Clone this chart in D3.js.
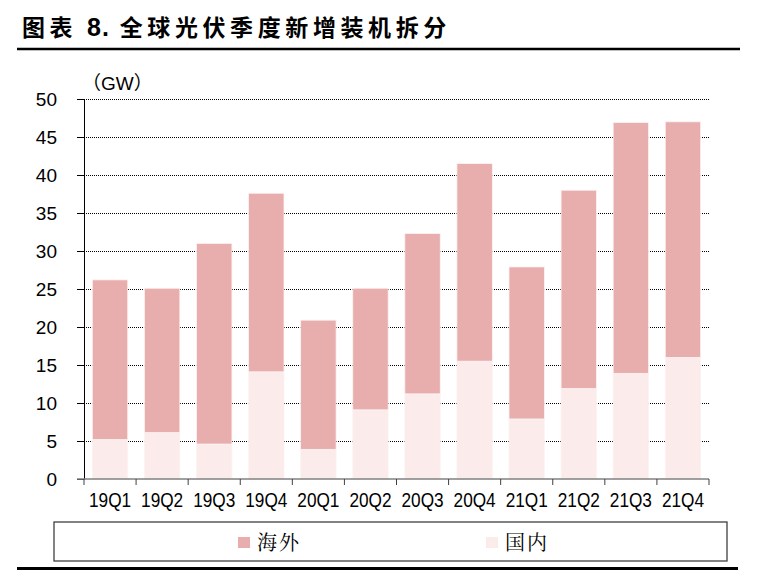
<!DOCTYPE html>
<html>
<head>
<meta charset="utf-8">
<script src="https://cdn.jsdelivr.net/npm/d3@7"></script>
<style>
  body { margin: 0; background: #fff; }
  svg { display: block; font-family: 'Liberation Sans', Arial, sans-serif; }
</style>
</head>
<body>
<div id="container"></div>
<script>
const w = 763,
  h = 570,
  plotLeft = 84,
  plotRight = 709,
  plotTop = 99,
  plotBottom = 479;

const quarters = ['19Q1', '19Q2', '19Q3', '19Q4', '20Q1', '20Q2', '20Q3', '20Q4', '21Q1', '21Q2', '21Q3', '21Q4'];
// GW
const domestic = [5.2, 6.1, 4.6, 14.1, 3.9, 9.1, 11.2, 15.5, 7.9, 11.9, 13.9, 16.0];
const overseas = [21.0, 19.0, 26.4, 23.5, 17.0, 16.0, 21.1, 26.0, 20.0, 26.1, 33.0, 31.0];
const yTicks = [0, 5, 10, 15, 20, 25, 30, 35, 40, 45, 50];
const seriesNames = { overseas: '海外', domestic: '国内' };
const colors = { overseas: '#e8adad', domestic: '#fbebeb' };

const latin = "'Liberation Sans', Arial, sans-serif";
const cjk = "'Noto Sans CJK SC', 'Liberation Sans', sans-serif";
const mixed = "'Liberation Sans', 'Noto Sans CJK SC', sans-serif";

const rows = quarters.map((q, i) => ({ q: q, domestic: domestic[i], overseas: overseas[i] }));

const svg = d3
  .select('#container')
  .append('svg')
  .attr('width', w)
  .attr('height', h);

// squeeze text horizontally, like the narrow font in the original
function squeeze(sel, k) {
  sel.each(function () {
    const len = this.getComputedTextLength();
    d3.select(this).attr('textLength', len * k).attr('lengthAdjust', 'spacingAndGlyphs');
  });
}

// title
const title = svg
  .append('text')
  .attr('x', 22)
  .attr('y', 36)
  .style('font-family', cjk)
  .style('font-weight', 'bold')
  .style('font-size', '23px')
  .style('letter-spacing', '4.6px')
  .attr('fill', '#000');
title.append('tspan').text('图表 ');
title.append('tspan').text('8.').style('font-family', latin).style('font-size', '25px').style('letter-spacing', '1px');
title.append('tspan').text(' 全球光伏季度新增装机拆分');

svg
  .append('line')
  .attr('x1', 17)
  .attr('x2', 740)
  .attr('y1', 49)
  .attr('y2', 49)
  .attr('stroke', '#000')
  .attr('stroke-width', 2.5);

const x = d3
  .scaleBand()
  .domain(quarters)
  .range([plotLeft, plotRight])
  .paddingInner(0.32)
  .paddingOuter(0.16);

const y = d3.scaleLinear().domain([0, 50]).range([plotBottom, plotTop]);

// gridlines
svg
  .append('g')
  .attr('transform', 'translate(' + plotLeft + ',0)')
  .call(d3.axisLeft(y).tickValues(yTicks.slice(1)).tickSize(-(plotRight - plotLeft)).tickFormat(''))
  .call((g) => g.select('.domain').remove())
  .selectAll('line')
  .attr('stroke', '#000')
  .attr('stroke-dasharray', '1,1');

// bars
const stack = d3.stack().keys(['domestic', 'overseas'])(rows);

svg
  .append('g')
  .selectAll('g')
  .data(stack)
  .enter()
  .append('g')
  .attr('fill', (s) => colors[s.key])
  .selectAll('rect')
  .data((s) => s)
  .enter()
  .append('rect')
  .attr('x', (d) => x(d.data.q))
  .attr('width', x.bandwidth())
  .attr('y', (d) => y(d[1]))
  .attr('height', (d) => y(d[0]) - y(d[1]))
  .attr('stroke', '#fdf3f3')
  .attr('stroke-width', 0.8);

// y axis
const yAxis = svg
  .append('g')
  .attr('transform', 'translate(' + plotLeft + ',0)')
  .call(d3.axisLeft(y).tickValues(yTicks).tickSize(7).tickPadding(20).tickSizeOuter(0));
yAxis.select('.domain').attr('stroke', '#000');
yAxis.selectAll('line').attr('stroke', '#000');
yAxis
  .selectAll('text')
  .style('font-family', latin)
  .style('font-size', '19px')
  .attr('fill', '#000');

// x axis
const xAxis = svg
  .append('g')
  .attr('transform', 'translate(0,' + plotBottom + ')')
  .call(d3.axisBottom(x).tickSize(0).tickPadding(13).tickSizeOuter(0));
xAxis.select('.domain').remove();
xAxis
  .selectAll('text')
  .style('font-family', latin)
  .style('font-size', '21px')
  .attr('fill', '#000')
  .call(squeeze, 0.82);

svg
  .append('line')
  .attr('x1', plotLeft - 7)
  .attr('x2', plotRight)
  .attr('y1', plotBottom)
  .attr('y2', plotBottom)
  .attr('stroke', '#808080')
  .attr('stroke-width', 1.5);

const step = x.step();
svg
  .append('g')
  .selectAll('line')
  .data(d3.range(quarters.length + 1))
  .enter()
  .append('line')
  .attr('x1', (i) => plotLeft + i * step)
  .attr('x2', (i) => plotLeft + i * step)
  .attr('y1', plotBottom)
  .attr('y2', plotBottom + 6)
  .attr('stroke', '#404040')
  .attr('stroke-width', 1);

// unit
svg
  .append('text')
  .text('（GW）')
  .attr('x', 82)
  .attr('y', 90)
  .style('font-family', mixed)
  .style('font-size', '19px')
  .attr('fill', '#000');

// legend
const legend = svg.append('g').attr('id', 'legend');
legend
  .append('rect')
  .attr('x', 54)
  .attr('y', 522)
  .attr('width', 673)
  .attr('height', 39)
  .attr('fill', 'none')
  .attr('stroke', '#404040')
  .attr('stroke-width', 1.3);

const legendX = { overseas: 238, domestic: 486 };
['overseas', 'domestic'].forEach((k) => {
  legend
    .append('rect')
    .attr('x', legendX[k])
    .attr('y', 537)
    .attr('width', 12)
    .attr('height', 11)
    .attr('fill', colors[k]);
  legend
    .append('text')
    .text(seriesNames[k])
    .attr('x', legendX[k] + 19)
    .attr('y', 550)
    .style('font-family', "'Noto Serif CJK SC', " + cjk)
    .style('font-size', '20px')
    .style('letter-spacing', '2px')
    .attr('fill', '#000');
});

svg
  .append('line')
  .attr('x1', 17)
  .attr('x2', 738)
  .attr('y1', 568.5)
  .attr('y2', 568.5)
  .attr('stroke', '#000')
  .attr('stroke-width', 3);
</script>
</body>
</html>
